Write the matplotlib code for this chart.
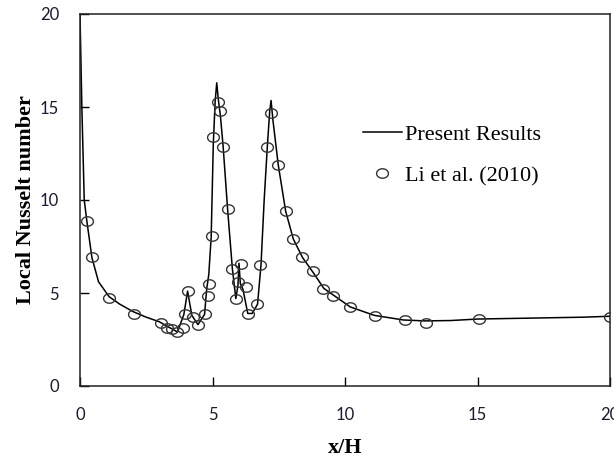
import numpy as np
import matplotlib
matplotlib.use("Agg")
import matplotlib.pyplot as plt
from matplotlib.path import Path

# Present Results (line)
line_x = [0, 0.07, 0.16, 0.26, 0.45, 0.7, 1.1, 1.5, 2.0, 2.5, 3.0, 3.3, 3.5, 3.68,
          3.92, 4.06, 4.22, 4.45, 4.7, 4.78, 4.86, 4.95, 5.03, 5.1, 5.16, 5.22, 5.3,
          5.4, 5.57, 5.75, 5.88, 5.96, 6.0, 6.05, 6.15, 6.33, 6.5, 6.7, 6.83, 6.95,
          7.07, 7.16, 7.21, 7.28, 7.48, 7.76, 8.05, 8.4, 8.8, 9.2, 9.6, 10.2, 11.1,
          12.2, 13.0, 14.0, 15.0, 17.0, 19.0, 20.0]
line_y = [20.0, 15.0, 10.0, 8.85, 6.9, 5.6, 4.8, 4.4, 4.0, 3.7, 3.45, 3.2, 3.05, 2.9,
          3.85, 5.1, 3.8, 3.3, 3.85, 5.2, 6.0, 8.0, 13.0, 15.3, 16.3, 15.4, 14.5,
          12.9, 9.5, 6.3, 4.7, 5.4, 6.6, 5.5, 5.2, 3.9, 3.9, 4.4, 6.5, 10.0, 12.9,
          14.8, 15.35, 14.3, 11.9, 9.4, 7.9, 6.9, 6.1, 5.25, 4.85, 4.25, 3.8, 3.55,
          3.5, 3.52, 3.6, 3.65, 3.7, 3.75]

# Li et al. (2010) (markers)
li_x = [0.25, 0.47, 1.09, 2.04, 3.06, 3.3, 3.48, 3.67, 3.9, 3.96, 4.06, 4.25, 4.47,
        4.72, 4.82, 4.88, 4.98, 5.03, 5.22, 5.28, 5.38, 5.57, 5.75, 5.89, 5.96, 6.06,
        6.26, 6.35, 6.69, 6.8, 7.07, 7.2, 7.48, 7.76, 8.05, 8.39, 8.78, 9.16, 9.56,
        10.19, 11.15, 12.26, 13.06, 15.06, 20.0]
li_y = [8.85, 6.92, 4.73, 3.87, 3.37, 3.13, 3.06, 2.88, 3.1, 3.85, 5.12, 3.73, 3.28,
        3.87, 4.84, 5.48, 8.08, 13.37, 15.25, 14.8, 12.87, 9.5, 6.29, 4.68, 5.57, 6.55,
        5.3, 3.87, 4.42, 6.52, 12.87, 14.66, 11.9, 9.43, 7.89, 6.92, 6.2, 5.23, 4.84,
        4.26, 3.78, 3.55, 3.37, 3.62, 3.73]

x_ticks = [0, 5, 10, 15, 20]
y_ticks = [0, 5, 10, 15, 20]

t = np.linspace(0, 2 * np.pi, 60)
ellipse = Path(np.column_stack([np.cos(t), 0.8 * np.sin(t)]))

fig = plt.figure(figsize=(6.14, 4.59), dpi=100)
ax = fig.add_axes([80 / 614, 1 - 386 / 459, 530 / 614, (386 - 14) / 459])

ax.plot(line_x, line_y, color="black", lw=1.1, label="Present Results", zorder=2)
ax.plot(li_x, li_y, linestyle="none", marker=ellipse, markersize=8.5,
        markerfacecolor="none", markeredgecolor="#333333", markeredgewidth=1.0,
        label="Li et al. (2010)", zorder=3)

ax.set_xlim(0, 20)
ax.set_ylim(0, 20)
ax.set_xticks(x_ticks)
ax.set_yticks(y_ticks)
ax.tick_params(axis="x", direction="in", length=6.5, width=1, pad=15,
               labelsize=12, top=False)
ax.tick_params(axis="y", direction="in", length=6.5, width=1, pad=15,
               labelsize=12, right=False)
for lab in ax.get_xticklabels() + ax.get_yticklabels():
    lab.set_fontfamily("Lato")
    lab.set_color("#1a1a33")
for s in ax.spines.values():
    s.set_linewidth(1.1)
    s.set_color("#222222")

ax.set_xlabel("x/H", fontfamily="Liberation Serif", fontweight="bold",
              fontsize=16, labelpad=11)
ax.set_ylabel("Local Nusselt number", fontfamily="Liberation Serif",
              fontweight="bold", fontsize=16, labelpad=3)

leg = ax.legend(loc="upper left", bbox_to_anchor=(363 / 614, 1 - 124 / 459),
                bbox_transform=fig.transFigure, frameon=False,
                prop={"family": "Liberation Serif", "size": 16},
                handlelength=1.75, handletextpad=0.15, labelspacing=0.95,
                borderaxespad=0, borderpad=0)

fig.savefig("out.png", dpi=100)
